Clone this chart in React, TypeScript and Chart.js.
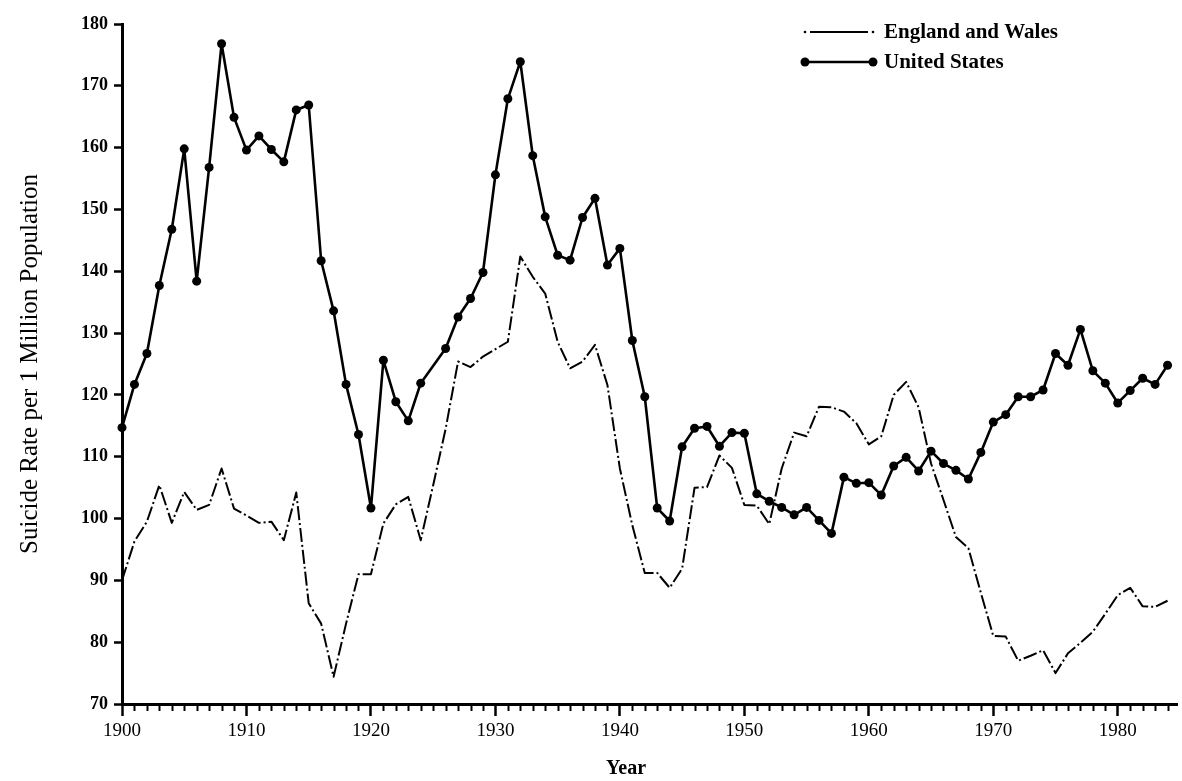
import React, { useEffect, useRef } from 'react';
import { Chart, registerables } from 'chart.js';

Chart.register(...registerables);

const years: number[] = Array.from({ length: 85 }, (_, i) => 1900 + i);

const unitedStates: (number | null)[] = [
  114.7, 121.7, 126.7, 137.7, 146.8, 159.8, 138.4, 156.8, 176.8, 164.9,
  159.6, 161.9, 159.7, 157.7, 166.1, 166.9, 141.7, 133.6, 121.7, 113.6,
  101.7, 125.6, 118.9, 115.8, 121.9, null, 127.5, 132.6, 135.6, 139.8,
  155.6, 167.9, 173.9, 158.7, 148.8, 142.6, 141.8, 148.7, 151.8, 141.0,
  143.7, 128.8, 119.7, 101.7, 99.6, 111.6, 114.6, 114.9, 111.7, 113.9,
  113.8, 104.0, 102.8, 101.8, 100.6, 101.8, 99.7, 97.6, 106.7, 105.7,
  105.8, 103.8, 108.5, 109.9, 107.7, 110.9, 108.9, 107.8, 106.4, 110.7,
  115.6, 116.8, 119.7, 119.7, 120.8, 126.7, 124.8, 130.6, 123.9, 121.9,
  118.7, 120.7, 122.7, 121.7, 124.8,
];

const englandWales: number[] = [
  90.0, 96.3, 99.5, 105.4, 99.3, 104.3, 101.4, 102.2, 108.1, 101.6,
  100.5, 99.3, 99.5, 96.5, 104.2, 86.3, 83.0, 74.4, 83.0, 91.0,
  91.0, 99.2, 102.3, 103.5, 96.5, 105.4, 114.5, 125.4, 124.5, 126.2,
  127.4, 128.6, 142.4, 139.1, 136.4, 128.6, 124.3, 125.4, 128.1, 121.6,
  108.1, 98.9, 91.2, 91.2, 88.8, 91.9, 105.0, 105.1, 110.2, 108.2,
  102.2, 102.1, 99.1, 108.1, 113.9, 113.3, 118.1, 118.0, 117.3, 115.4,
  112.0, 113.3, 120.0, 122.1, 118.0, 108.9, 103.0, 97.0, 95.2, 88.0,
  81.0, 80.9, 77.0, 77.8, 78.7, 75.0, 78.2, 79.9, 81.7, 84.6,
  87.6, 88.8, 85.8, 85.7, 86.7,
];

const seriesLabels = ['England and Wales', 'United States'];
const yTitle = 'Suicide Rate per 1 Million Population';
const xTitle = 'Year';

const SERIF = '"Liberation Serif", "Times New Roman", serif';
const EW_DASH = [14, 3, 2, 3];

const extrasPlugin = {
  id: 'extras',
  afterDraw(chart: any) {
    const ctx = chart.ctx as CanvasRenderingContext2D;
    const xs = chart.scales.x;
    const area = chart.chartArea;
    ctx.save();
    // minor ticks on x axis
    ctx.strokeStyle = '#000';
    ctx.lineWidth = 2;
    for (const yr of years) {
      if (yr % 10 === 0) continue;
      const px = Math.round(xs.getPixelForValue(yr)) + 0.5;
      ctx.beginPath();
      ctx.moveTo(px, area.bottom);
      ctx.lineTo(px, area.bottom + 7);
      ctx.stroke();
    }
    // x title
    ctx.fillStyle = '#000';
    ctx.font = `bold 20px ${SERIF}`;
    ctx.textAlign = 'center';
    ctx.textBaseline = 'middle';
    ctx.fillText(xTitle, xs.getPixelForValue(1940.5), 769);

    // legend
    ctx.textAlign = 'left';
    ctx.font = `bold 21px ${SERIF}`;
    const x0 = 805;
    const x1 = 873;
    const tx = 884;
    // England and Wales
    const y1 = 32;
    ctx.lineWidth = 2;
    ctx.setLineDash([]);
    ctx.beginPath();
    ctx.arc(x0, y1, 1.3, 0, Math.PI * 2);
    ctx.fill();
    ctx.beginPath();
    ctx.moveTo(x0 + 5, y1);
    ctx.lineTo(x1 - 5, y1);
    ctx.stroke();
    ctx.beginPath();
    ctx.arc(x1, y1, 1.3, 0, Math.PI * 2);
    ctx.fill();
    ctx.fillText(seriesLabels[0], tx, y1 + 1);
    // United States
    const y2 = 62;
    ctx.lineWidth = 2.5;
    ctx.beginPath();
    ctx.moveTo(x0, y2);
    ctx.lineTo(x1, y2);
    ctx.stroke();
    for (const px of [x0, x1]) {
      ctx.beginPath();
      ctx.arc(px, y2, 4.5, 0, Math.PI * 2);
      ctx.fill();
    }
    ctx.fillText(seriesLabels[1], tx, y2 + 1);
    ctx.restore();
  },
};

export default function App() {
  const canvasRef = useRef<HTMLCanvasElement | null>(null);

  useEffect(() => {
    if (!canvasRef.current) return;
    const chart = new Chart(canvasRef.current, {
      type: 'line',
      data: {
        datasets: [
          {
            label: seriesLabels[0],
            data: years.map((yr, i) => ({ x: yr, y: englandWales[i] })),
            borderColor: '#000',
            borderWidth: 2,
            borderDash: EW_DASH,
            borderJoinStyle: 'round',
            pointRadius: 0,
            fill: false,
            tension: 0,
            clip: false as any,
          },
          {
            label: seriesLabels[1],
            data: years.map((yr, i) => ({ x: yr, y: unitedStates[i] })),
            borderColor: '#000',
            backgroundColor: '#000',
            borderWidth: 2.6,
            borderJoinStyle: 'round',
            pointRadius: 4.5,
            pointBackgroundColor: '#000',
            pointBorderWidth: 0,
            fill: false,
            tension: 0,
            spanGaps: true,
            clip: false as any,
          },
        ],
      },
      options: {
        animation: false,
        responsive: false,
        maintainAspectRatio: false,
        layout: { padding: { top: 24, right: 0, left: 0, bottom: 0 } },
        plugins: {
          legend: { display: false },
          tooltip: { enabled: false },
          title: { display: false },
        },
        scales: {
          x: {
            type: 'linear',
            min: 1900,
            max: 1984.8,
            afterFit: (s: any) => {
              s.height = 77;
            },
            border: { display: true, color: '#000', width: 3 },
            grid: {
              drawOnChartArea: false,
              drawTicks: true,
              tickLength: 12,
              tickWidth: 2.5,
              tickColor: '#000',
            },
            ticks: {
              stepSize: 10,
              includeBounds: false,
              autoSkip: false,
              maxRotation: 0,
              padding: 4,
              color: '#000',
              font: { family: SERIF, size: 19 },
              callback: (v: any) => String(v),
            },
          },
          y: {
            type: 'linear',
            min: 70,
            max: 180,
            afterFit: (s: any) => {
              s.width = 122;
            },
            border: { display: true, color: '#000', width: 3 },
            grid: {
              drawOnChartArea: false,
              drawTicks: true,
              tickLength: 8,
              tickWidth: 2.5,
              tickColor: '#000',
            },
            ticks: {
              stepSize: 10,
              padding: 6,
              color: '#000',
              font: { family: SERIF, size: 18, weight: 'bold' },
              callback: (v: any) => String(v),
            },
            title: {
              display: true,
              text: yTitle,
              color: '#000',
              font: { family: SERIF, size: 25 },
              padding: { top: 15, bottom: 0 },
            },
          },
        },
      },
      plugins: [extrasPlugin],
    } as any);
    return () => chart.destroy();
  }, []);

  return (
    <div style={{ position: 'fixed', left: 0, top: 0, width: 1182, height: 781, background: '#fff' }}>
      <canvas ref={canvasRef} width={1182} height={781} />
    </div>
  );
}
